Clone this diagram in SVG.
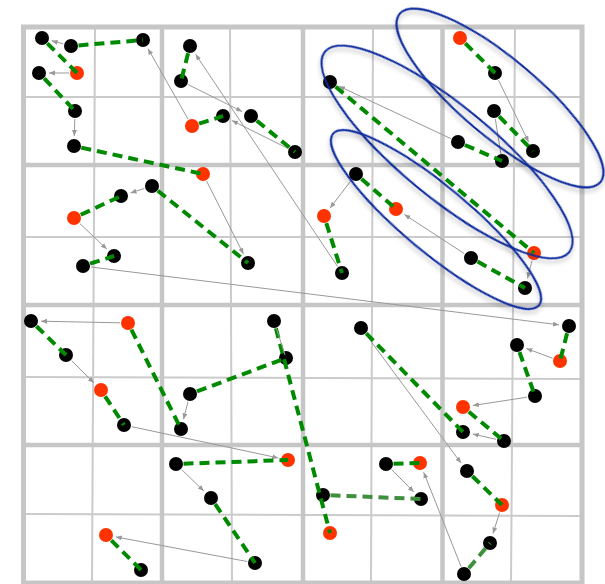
<svg xmlns="http://www.w3.org/2000/svg" width="605" height="584" viewBox="0 0 605 584">
<defs>
<style>
.gmin{stroke:#cbcbcb;stroke-width:2;fill:none}
.gmaj{stroke:#c6c6c6;stroke-width:4.5;fill:none}
.b{fill:#000}
.r{fill:#ff3300}
.g{stroke:#008a00;stroke-width:4;stroke-dasharray:10 6;fill:none}
.g2{stroke:#3f8f3f;stroke-width:4;stroke-dasharray:10 6;fill:none}
.a{stroke:#999;stroke-width:1;fill:none;marker-end:url(#ah)}
.p{stroke:#999;stroke-width:1;fill:none}
.e{fill:none;stroke:#0c2a9c;stroke-width:2;filter:url(#sh)}
</style>
<marker id="ah" markerUnits="userSpaceOnUse" markerWidth="7" markerHeight="6" refX="6" refY="2.5" orient="auto"><path d="M0,0 L6,2.5 L0,5 z" fill="#999"/></marker>
<filter id="sh" x="-20%" y="-20%" width="140%" height="140%"><feDropShadow dx="2" dy="3" stdDeviation="2" flood-color="#000" flood-opacity="0.25"/></filter>
</defs>
<rect width="605" height="584" fill="#fff"/>
<g id="grid">
<line class="gmin" x1="95" y1="27" x2="92" y2="583"/>
<line class="gmin" x1="230" y1="27" x2="232" y2="583"/>
<line class="gmin" x1="373" y1="27" x2="371" y2="583"/>
<line class="gmin" x1="515" y1="27" x2="511" y2="583"/>
<line class="gmin" x1="23" y1="97" x2="582" y2="97"/>
<line class="gmin" x1="23" y1="237" x2="582" y2="237"/>
<line class="gmin" x1="23" y1="377" x2="582" y2="379"/>
<line class="gmin" x1="23" y1="514" x2="582" y2="516"/>
<line class="gmaj" x1="162" y1="27" x2="162" y2="583"/>
<line class="gmaj" x1="303" y1="27" x2="303" y2="583"/>
<line class="gmaj" x1="442.5" y1="27" x2="442.5" y2="583"/>
<line class="gmaj" x1="23" y1="165" x2="582" y2="165"/>
<line class="gmaj" x1="23" y1="305" x2="582" y2="305"/>
<line class="gmaj" x1="23" y1="445" x2="582" y2="445"/>
<rect x="23.5" y="27" width="558.5" height="556" fill="none" stroke="#c6c6c6" stroke-width="5"/>
</g>
<g id="nodes">
<g id="A1"><circle class="b" cx="42" cy="38" r="7"/></g>
<g id="A2"><circle class="b" cx="71" cy="46" r="7"/></g>
<g id="A3"><circle class="b" cx="143" cy="40" r="7"/></g>
<g id="A4"><circle class="r" cx="77" cy="73" r="7"/></g>
<g id="A5"><circle class="b" cx="39" cy="73" r="7"/></g>
<g id="A6"><circle class="b" cx="75" cy="111" r="7"/></g>
<g id="A7"><circle class="b" cx="74" cy="146" r="7"/></g>
<g id="A8"><circle class="r" cx="203" cy="174" r="7"/></g>
<g id="A9"><circle class="b" cx="190" cy="46" r="7"/></g>
<g id="A10"><circle class="b" cx="181" cy="81" r="7"/></g>
<g id="A11"><circle class="r" cx="192" cy="126" r="7"/></g>
<g id="A12"><circle class="b" cx="223" cy="116" r="7"/></g>
<g id="A13"><circle class="b" cx="251" cy="116" r="7"/></g>
<g id="A14"><circle class="b" cx="295" cy="152" r="7"/></g>
<g id="A15"><circle class="b" cx="152" cy="186" r="7"/></g>
<g id="A16"><circle class="b" cx="121" cy="196" r="7"/></g>
<g id="A17"><circle class="r" cx="74" cy="218" r="7"/></g>
<g id="A18"><circle class="b" cx="114" cy="256" r="7"/></g>
<g id="A19"><circle class="b" cx="83" cy="266" r="7"/></g>
<g id="A20"><circle class="b" cx="248" cy="263" r="7"/></g>
<g id="B1"><circle class="r" cx="460" cy="38" r="7"/></g>
<g id="B2"><circle class="b" cx="495" cy="73" r="7"/></g>
<g id="B3"><circle class="b" cx="330" cy="82" r="7"/></g>
<g id="B4"><circle class="b" cx="494" cy="111" r="7"/></g>
<g id="B5"><circle class="b" cx="458" cy="142" r="7"/></g>
<g id="B6"><circle class="b" cx="533" cy="151" r="7"/></g>
<g id="B7"><circle class="b" cx="502" cy="161" r="7"/></g>
<g id="B8"><circle class="b" cx="356" cy="174" r="7"/></g>
<g id="B9"><circle class="r" cx="396" cy="209" r="7"/></g>
<g id="B10"><circle class="r" cx="324" cy="216" r="7"/></g>
<g id="B11"><circle class="r" cx="534" cy="253" r="7"/></g>
<g id="B12"><circle class="b" cx="471" cy="258" r="7"/></g>
<g id="B13"><circle class="b" cx="525" cy="288" r="7"/></g>
<g id="B14"><circle class="b" cx="342" cy="273" r="7"/></g>
<g id="C1"><circle class="b" cx="31" cy="321" r="7"/></g>
<g id="C2"><circle class="r" cx="128" cy="323" r="7"/></g>
<g id="C3"><circle class="b" cx="66" cy="355" r="7"/></g>
<g id="C4"><circle class="r" cx="101" cy="390" r="7"/></g>
<g id="C5"><circle class="b" cx="124" cy="425" r="7"/></g>
<g id="C6"><circle class="b" cx="190" cy="394" r="7"/></g>
<g id="C7"><circle class="b" cx="181" cy="429" r="7"/></g>
<g id="C8"><circle class="b" cx="274" cy="321" r="7"/></g>
<g id="C9"><circle class="b" cx="286" cy="358" r="7"/></g>
<g id="C10"><circle class="b" cx="176" cy="464" r="7"/></g>
<g id="C11"><circle class="r" cx="288" cy="460" r="7"/></g>
<g id="C12"><circle class="b" cx="211" cy="498" r="7"/></g>
<g id="C13"><circle class="b" cx="255" cy="563" r="7"/></g>
<g id="C14"><circle class="r" cx="106" cy="535" r="7"/></g>
<g id="C15"><circle class="b" cx="141" cy="570" r="7"/></g>
<g id="D1"><circle class="b" cx="361" cy="328" r="7"/></g>
<g id="D2"><circle class="b" cx="569" cy="326" r="7"/></g>
<g id="D3"><circle class="b" cx="517" cy="345" r="7"/></g>
<g id="D4"><circle class="r" cx="560" cy="361" r="7"/></g>
<g id="D5"><circle class="b" cx="535" cy="396" r="7"/></g>
<g id="D6"><circle class="r" cx="463" cy="407" r="7"/></g>
<g id="D7"><circle class="b" cx="463" cy="432" r="7"/></g>
<g id="D8"><circle class="b" cx="504" cy="441" r="7"/></g>
<g id="D9"><circle class="b" cx="386" cy="464" r="7"/></g>
<g id="D10"><circle class="r" cx="420" cy="463" r="7"/></g>
<g id="D11"><circle class="b" cx="467" cy="471" r="7"/></g>
<g id="D12"><circle class="r" cx="502" cy="505" r="7"/></g>
<g id="D13"><circle class="b" cx="323" cy="495" r="7"/></g>
<g id="D14"><circle class="b" cx="421" cy="499" r="7"/></g>
<g id="D15"><circle class="r" cx="330" cy="533" r="7"/></g>
<g id="D16"><circle class="b" cx="490" cy="543" r="7"/></g>
<g id="D17"><circle class="b" cx="464" cy="574" r="7"/></g>
</g>
<g id="connectors">
<line class="a" x1="63.3" y1="43.9" x2="51.6" y2="40.7"/>
<line class="a" x1="69" y1="73" x2="49" y2="73"/>
<line class="a" x1="74.8" y1="119" x2="74.3" y2="136"/>
<line class="a" x1="188" y1="119" x2="148" y2="48.7"/>
<line class="a" x1="188.2" y1="84.6" x2="242.1" y2="111.5"/>
<line class="a" x1="287.8" y1="148.4" x2="231.9" y2="120.5"/>
<line class="a" x1="337.5" y1="266.4" x2="195.6" y2="54.3"/>
<line class="a" x1="144.4" y1="188.5" x2="130.5" y2="192.9"/>
<line class="a" x1="79.8" y1="223.5" x2="106.8" y2="249.1"/>
<line class="a" x1="206.6" y1="181.1" x2="243.5" y2="254.1"/>
<line class="a" x1="90.9" y1="267" x2="559.1" y2="324.8"/>
<line class="a" x1="450.8" y1="138.6" x2="339" y2="86.2"/>
<line class="a" x1="498.5" y1="80.2" x2="528.6" y2="142"/>
<line class="p" x1="495.3" y1="118.9" x2="500.9" y2="154"/>
<line class="a" x1="351.2" y1="180.4" x2="330.1" y2="208"/>
<line class="a" x1="464.3" y1="253.6" x2="404.4" y2="214.5"/>
<line class="a" x1="532" y1="260.8" x2="527.5" y2="278.3"/>
<line class="a" x1="120" y1="322.8" x2="41" y2="321.2"/>
<line class="a" x1="71.7" y1="360.7" x2="93.9" y2="382.9"/>
<line class="a" x1="188" y1="401.8" x2="183.5" y2="419.3"/>
<line class="a" x1="131.8" y1="426.7" x2="278.2" y2="457.9"/>
<line class="a" x1="181.7" y1="469.6" x2="203.8" y2="491"/>
<line class="a" x1="247.1" y1="561.5" x2="115.8" y2="536.9"/>
<line class="a" x1="552.5" y1="358.2" x2="526.4" y2="348.5"/>
<line class="a" x1="527.1" y1="397.2" x2="472.9" y2="405.5"/>
<line class="a" x1="496.2" y1="439.3" x2="472.8" y2="434.1"/>
<line class="a" x1="365.8" y1="334.4" x2="461" y2="463"/>
<line class="a" x1="391.7" y1="469.7" x2="413.9" y2="491.9"/>
<line class="a" x1="461.1" y1="566.6" x2="423.7" y2="472.3"/>
<line class="a" x1="499.6" y1="512.6" x2="493" y2="533.5"/>
<line class="g" x1="47.3" y1="43.3" x2="77" y2="73"/>
<line class="g" x1="78.5" y1="45.4" x2="143" y2="40"/>
<line class="g" x1="44.2" y1="78.4" x2="75" y2="111"/>
<line class="g" x1="81.3" y1="147.6" x2="203" y2="174"/>
<line class="g" x1="188.1" y1="53.3" x2="181" y2="81"/>
<line class="g" x1="199.1" y1="123.7" x2="223" y2="116"/>
<line class="g" x1="256.8" y1="120.7" x2="295" y2="152"/>
<line class="g" x1="80.8" y1="214.8" x2="121" y2="196"/>
<line class="g" x1="157.8" y1="190.7" x2="248" y2="263"/>
<line class="g" x1="90.1" y1="263.7" x2="114" y2="256"/>
<line class="g" x1="465.3" y1="43.3" x2="495" y2="73"/>
<line class="g" x1="335.7" y1="86.8" x2="534" y2="253"/>
<line class="g" x1="499.2" y1="116.4" x2="533" y2="151"/>
<line class="g" x1="464.9" y1="145" x2="502" y2="161"/>
<line class="g" x1="361.6" y1="178.9" x2="396" y2="209"/>
<line class="g" x1="326.3" y1="223.1" x2="342" y2="273"/>
<line class="g" x1="477.6" y1="261.6" x2="525" y2="288"/>
<line class="g" x1="36.4" y1="326.2" x2="66" y2="355"/>
<line class="g" x1="131.4" y1="329.7" x2="181" y2="429"/>
<line class="g" x1="105.1" y1="396.3" x2="124" y2="425"/>
<line class="g" x1="197" y1="391.4" x2="286" y2="358"/>
<line class="g" x1="275.9" y1="328.3" x2="330" y2="533"/>
<line class="p" x1="276.3" y1="328.1" x2="285" y2="355"/>
<line class="g" x1="183.5" y1="463.7" x2="288" y2="460"/>
<line class="g" x1="215.2" y1="504.2" x2="255" y2="563"/>
<line class="g" x1="111.3" y1="540.3" x2="141" y2="570"/>
<line class="g" x1="366.3" y1="333.4" x2="463" y2="432"/>
<line class="g" x1="567.1" y1="333.3" x2="560" y2="361"/>
<line class="g" x1="519.5" y1="352.1" x2="535" y2="396"/>
<line class="g" x1="468.8" y1="411.8" x2="504" y2="441"/>
<line class="g" x1="393.5" y1="463.8" x2="420" y2="463"/>
<line class="g2" x1="330.5" y1="495.3" x2="421" y2="499"/>
<line class="g" x1="472.4" y1="476.2" x2="502" y2="505"/>
<line class="g2" x1="468.8" y1="568.3" x2="490" y2="543"/>
</g>
<g id="groups">
<ellipse class="e" cx="500" cy="98" rx="131" ry="39" transform="rotate(40 500 98)"/>
<ellipse class="e" cx="447" cy="152" rx="158" ry="46" transform="rotate(39.4 447 152)"/>
<ellipse class="e" cx="436" cy="219.5" rx="134" ry="33" transform="rotate(39.8 436 219.5)"/>
</g>
</svg>
